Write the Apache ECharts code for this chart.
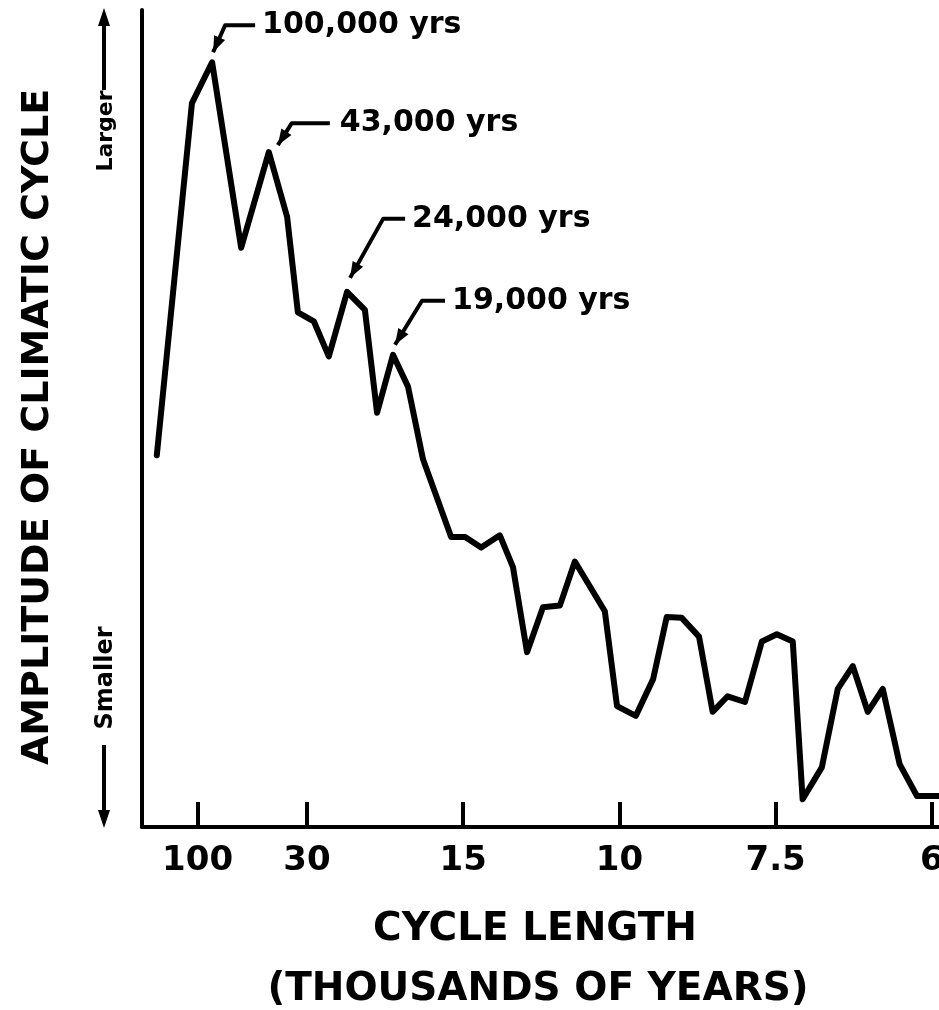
<!DOCTYPE html>
<html>
<head>
<meta charset="utf-8">
<script src="https://cdn.jsdelivr.net/npm/echarts@6/dist/echarts.min.js"></script>
<style>
  html, body { margin: 0; padding: 0; background: #fff; }
  #chart { width: 939px; height: 1010px; }
</style>
</head>
<body>
<div id="chart"></div>
<script>
// x: frequency in cycles per 100,000 yrs (= 100 / cycle length in kyr)
const freq = [0.13, 0.88, 1.31, 1.93, 2.52, 2.91, 3.14, 3.48, 3.80, 4.19,
  4.57, 4.83, 5.17, 5.49, 5.81, 6.41, 6.71, 7.05, 7.45, 7.73,
  8.03, 8.37, 8.73, 9.05, 9.69, 9.95, 10.35, 10.72, 11.01, 11.33,
  11.70, 11.99, 12.31, 12.68, 13.04, 13.36, 13.70, 13.91, 14.32, 14.66,
  14.98, 15.30, 15.62, 15.98, 16.35, 16.82];
// relative amplitude (0 = smaller, 100 = larger)
const amplitude = [45.5, 88.6, 93.6, 70.9, 82.6, 74.7, 63.0, 61.9, 57.6, 65.5,
  63.3, 50.7, 57.8, 53.9, 45.0, 35.5, 35.5, 34.2, 35.7, 31.8,
  21.4, 26.9, 27.1, 32.5, 26.4, 14.8, 13.6, 18.1, 25.7, 25.6,
  23.3, 14.1, 16.0, 15.3, 22.7, 23.6, 22.7, 3.4, 7.3, 16.9,
  19.7, 14.1, 16.9, 7.7, 3.8, 3.8];
// tick labels: cycle length in thousands of years
const periods = [100, 30, 15, 10, 7.5, 6];
const tickFreq = periods.map(p => 100 / p);

// peak labels: index of the peak in the series + offsets of the arrow (px)
const peakLabels = [
  { text: '100,000 yrs', idx: 2,  tip: [1, -10], corner: [13, -37], end: [43, -37], txt: [50, -37] },
  { text: '43,000 yrs',  idx: 4,  tip: [9, -7],  corner: [23, -29], end: [61, -29], txt: [71, -29] },
  { text: '24,000 yrs',  idx: 9,  tip: [3, -14], corner: [36, -73], end: [58, -73], txt: [65, -73] },
  { text: '19,000 yrs',  idx: 12, tip: [2, -10], corner: [29, -54], end: [52, -54], txt: [59, -54] }
];

const FONT = 'DejaVu Sans';
let myChart = echarts.init(document.getElementById('chart'));

myChart.setOption({
  backgroundColor: '#fff',
  animation: false,
  grid: { left: 142, right: 0, top: 10, bottom: 183, outerBoundsMode: 'none', containLabel: false },
  xAxis: {
    type: 'value',
    min: -0.186,
    max: 16.82,
    splitLine: { show: false },
    axisLine: { onZero: false, lineStyle: { color: '#000', width: 4 } },
    axisTick: {
      customValues: tickFreq,
      inside: true,
      length: 25,
      lineStyle: { color: '#000', width: 4 }
    },
    axisLabel: {
      customValues: tickFreq,
      margin: 17,
      color: '#000',
      fontFamily: FONT,
      fontWeight: 'bold',
      fontSize: 34,
      formatter: v => String(Math.round(100 / v * 10) / 10)
    }
  },
  yAxis: {
    type: 'value',
    min: 0,
    max: 100,
    splitLine: { show: false },
    axisTick: { show: false },
    axisLabel: { show: false },
    axisLine: { show: true, onZero: false, lineStyle: { color: '#000', width: 4 } }
  },
  series: [{
    type: 'line',
    data: freq.map((f, i) => [f, amplitude[i]]),
    showSymbol: false,
    lineStyle: { color: '#000', width: 6, cap: 'round', join: 'round' }
  }]
});

// annotations and axis titles
function arrowHead(tip, from, len, half) {
  let dx = tip[0] - from[0], dy = tip[1] - from[1];
  let d = Math.sqrt(dx * dx + dy * dy);
  let ux = dx / d, uy = dy / d;
  let bx = tip[0] - ux * len, by = tip[1] - uy * len;
  return [tip, [bx - uy * half, by + ux * half], [bx + uy * half, by - ux * half]];
}

let graphics = [];
peakLabels.forEach(p => {
  let pk = myChart.convertToPixel({ gridIndex: 0 }, [freq[p.idx], amplitude[p.idx]]);
  let at = o => [pk[0] + o[0], pk[1] + o[1]];
  let tip = at(p.tip), corner = at(p.corner), end = at(p.end), t = at(p.txt);
  graphics.push({
    type: 'polyline', silent: true,
    shape: { points: [end, corner, tip] },
    style: { stroke: '#000', lineWidth: 4, fill: null, lineJoin: 'round' }
  });
  graphics.push({
    type: 'polygon', silent: true,
    shape: { points: arrowHead(tip, corner, 16, 6) },
    style: { fill: '#000' }
  });
  graphics.push({
    type: 'text', silent: true, x: t[0], y: t[1],
    style: {
      text: p.text, fill: '#000', font: 'bold 30px "DejaVu Sans"',
      align: 'left', verticalAlign: 'middle'
    }
  });
});

// y axis title
graphics.push({
  type: 'text', silent: true, x: 38, y: 427, rotation: Math.PI / 2,
  style: {
    text: 'AMPLITUDE OF CLIMATIC CYCLE', fill: '#000',
    font: 'bold 38px "DejaVu Sans"', align: 'center', verticalAlign: 'middle'
  }
});
// Larger / Smaller with arrows
graphics.push({
  type: 'text', silent: true, x: 106, y: 131, rotation: Math.PI / 2,
  style: { text: 'Larger', fill: '#000', font: 'bold 22px "DejaVu Sans"', align: 'center', verticalAlign: 'middle' }
});
graphics.push({
  type: 'text', silent: true, x: 106, y: 678, rotation: Math.PI / 2,
  style: { text: 'Smaller', fill: '#000', font: 'bold 24px "DejaVu Sans"', align: 'center', verticalAlign: 'middle' }
});
graphics.push({
  type: 'line', silent: true,
  shape: { x1: 104, y1: 90, x2: 104, y2: 22 },
  style: { stroke: '#000', lineWidth: 4 }
});
graphics.push({
  type: 'polygon', silent: true,
  shape: { points: arrowHead([104, 8], [104, 90], 18, 6) },
  style: { fill: '#000' }
});
graphics.push({
  type: 'line', silent: true,
  shape: { x1: 104, y1: 745, x2: 104, y2: 812 },
  style: { stroke: '#000', lineWidth: 4 }
});
graphics.push({
  type: 'polygon', silent: true,
  shape: { points: arrowHead([104, 828], [104, 745], 18, 6) },
  style: { fill: '#000' }
});
// x axis titles
graphics.push({
  type: 'text', silent: true, x: 535, y: 930,
  style: { text: 'CYCLE LENGTH', fill: '#000', font: 'bold 39px "DejaVu Sans"', align: 'center', verticalAlign: 'middle' }
});
graphics.push({
  type: 'text', silent: true, x: 538, y: 990,
  style: { text: '(THOUSANDS OF YEARS)', fill: '#000', font: 'bold 39px "DejaVu Sans"', align: 'center', verticalAlign: 'middle' }
});

myChart.setOption({ graphic: graphics });
</script>
</body>
</html>
